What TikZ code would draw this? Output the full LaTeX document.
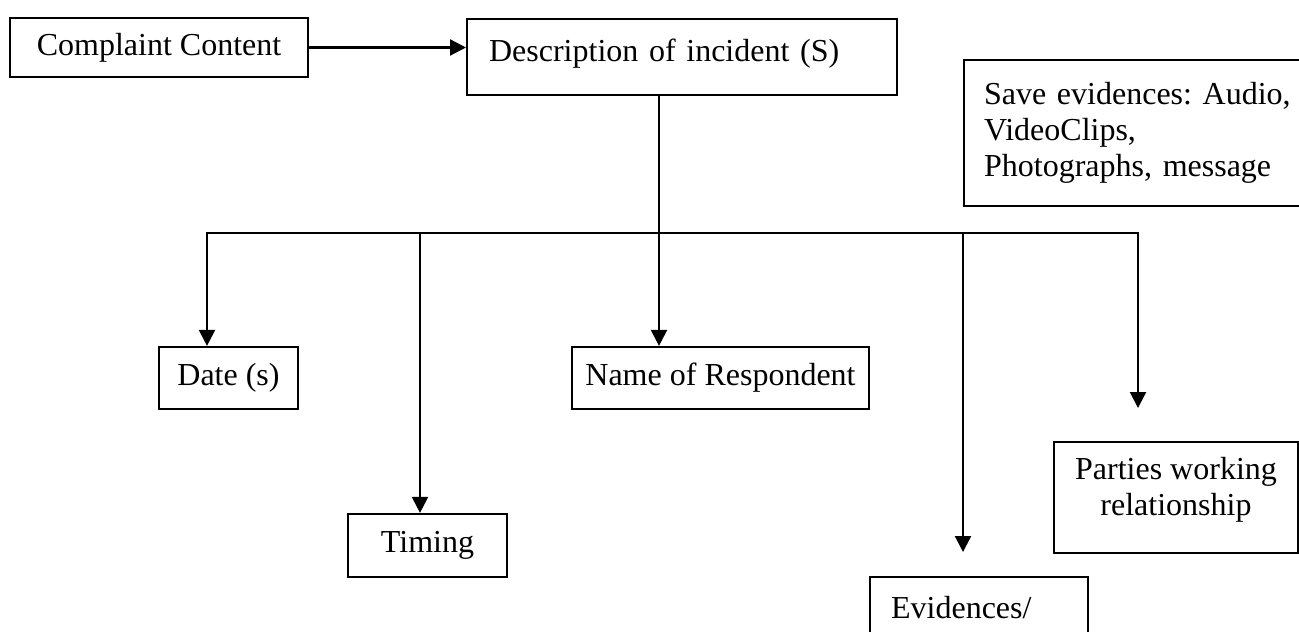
\documentclass[tikz,border=0pt]{standalone}
\usepackage{fontspec}
\setmainfont{Liberation Serif}
\usetikzlibrary{arrows.meta,positioning}
\frenchspacing

\begin{document}
\begin{tikzpicture}[x=0.5pt, y=-0.5pt,
    boxnode/.style={draw, line width=1.1pt, inner sep=0pt, font=\fontsize{16}{18}\selectfont},
    arrowline/.style={line width=1.1pt, -{Triangle[length=8pt,width=8pt]}}]
        \useasboundingbox (0,0) rectangle (1299,631);
        \clip (0,0) rectangle (1299,631);
        % Top row
        \node[boxnode, minimum width=149pt, minimum height=29.5pt] (complaint) at (159,47.5) {Complaint Content};
        \node[boxnode, anchor=north west, text width=193pt, align=left, inner xsep=11pt, inner ysep=5pt,
              text height=16pt, text depth=12pt] (incident) at (466,18) {Description of incident (S)};
        \node[boxnode, anchor=north west, text width=170pt, align=left, inner xsep=10pt,
              minimum height=73pt] (save) at (963,59) {Save evidences: Audio,\\ VideoClips,\\ Photographs, message};
        % Branch points
        \coordinate (hub) at (659,233);
        \coordinate (busL) at (207,233);
        \coordinate (busT) at (420,233);
        \coordinate (busR) at (1138,233);
        \coordinate (evtip) at (963,552);
        \coordinate (patip) at (1138,408);
        % Lower boxes
        \node[boxnode, minimum width=69.5pt, minimum height=31pt] (date) at (228.5,378) {Date (s)};
        \node[boxnode, minimum width=79.5pt, minimum height=31.5pt] (timing) at (427.5,545.5) {Timing};
        \node[boxnode, minimum width=148.5pt, minimum height=31pt] (respondent) at (720.5,378) {Name of Respondent};
        \node[boxnode, anchor=north west, text width=88pt, align=left, inner xsep=10.5pt, inner ysep=5pt,
              text height=15.5pt, text depth=40pt] (evidence) at (869,576) {Evidences/};
        \node[boxnode, minimum width=122pt, minimum height=55.5pt, align=center, text depth=11.5pt] (parties) at (1176,497.5) {Parties working\\ relationship};
        % Connectors
        \draw[arrowline] (complaint.east) -- (complaint.east -| incident.west);
        \draw[line width=1.1pt] (incident.south -| hub) -- (hub);
        \draw[line width=1.1pt, line cap=rect] (busL) -- (busR);
        \draw[arrowline] (busL) -- (busL |- date.north);
        \draw[arrowline] (busT) -- (busT |- timing.north);
        \draw[arrowline] (hub) -- (hub |- respondent.north);
        \draw[arrowline] (evtip |- hub) -- (evtip);
        \draw[arrowline] (busR) -- (patip);
      \end{tikzpicture}
\end{document}
